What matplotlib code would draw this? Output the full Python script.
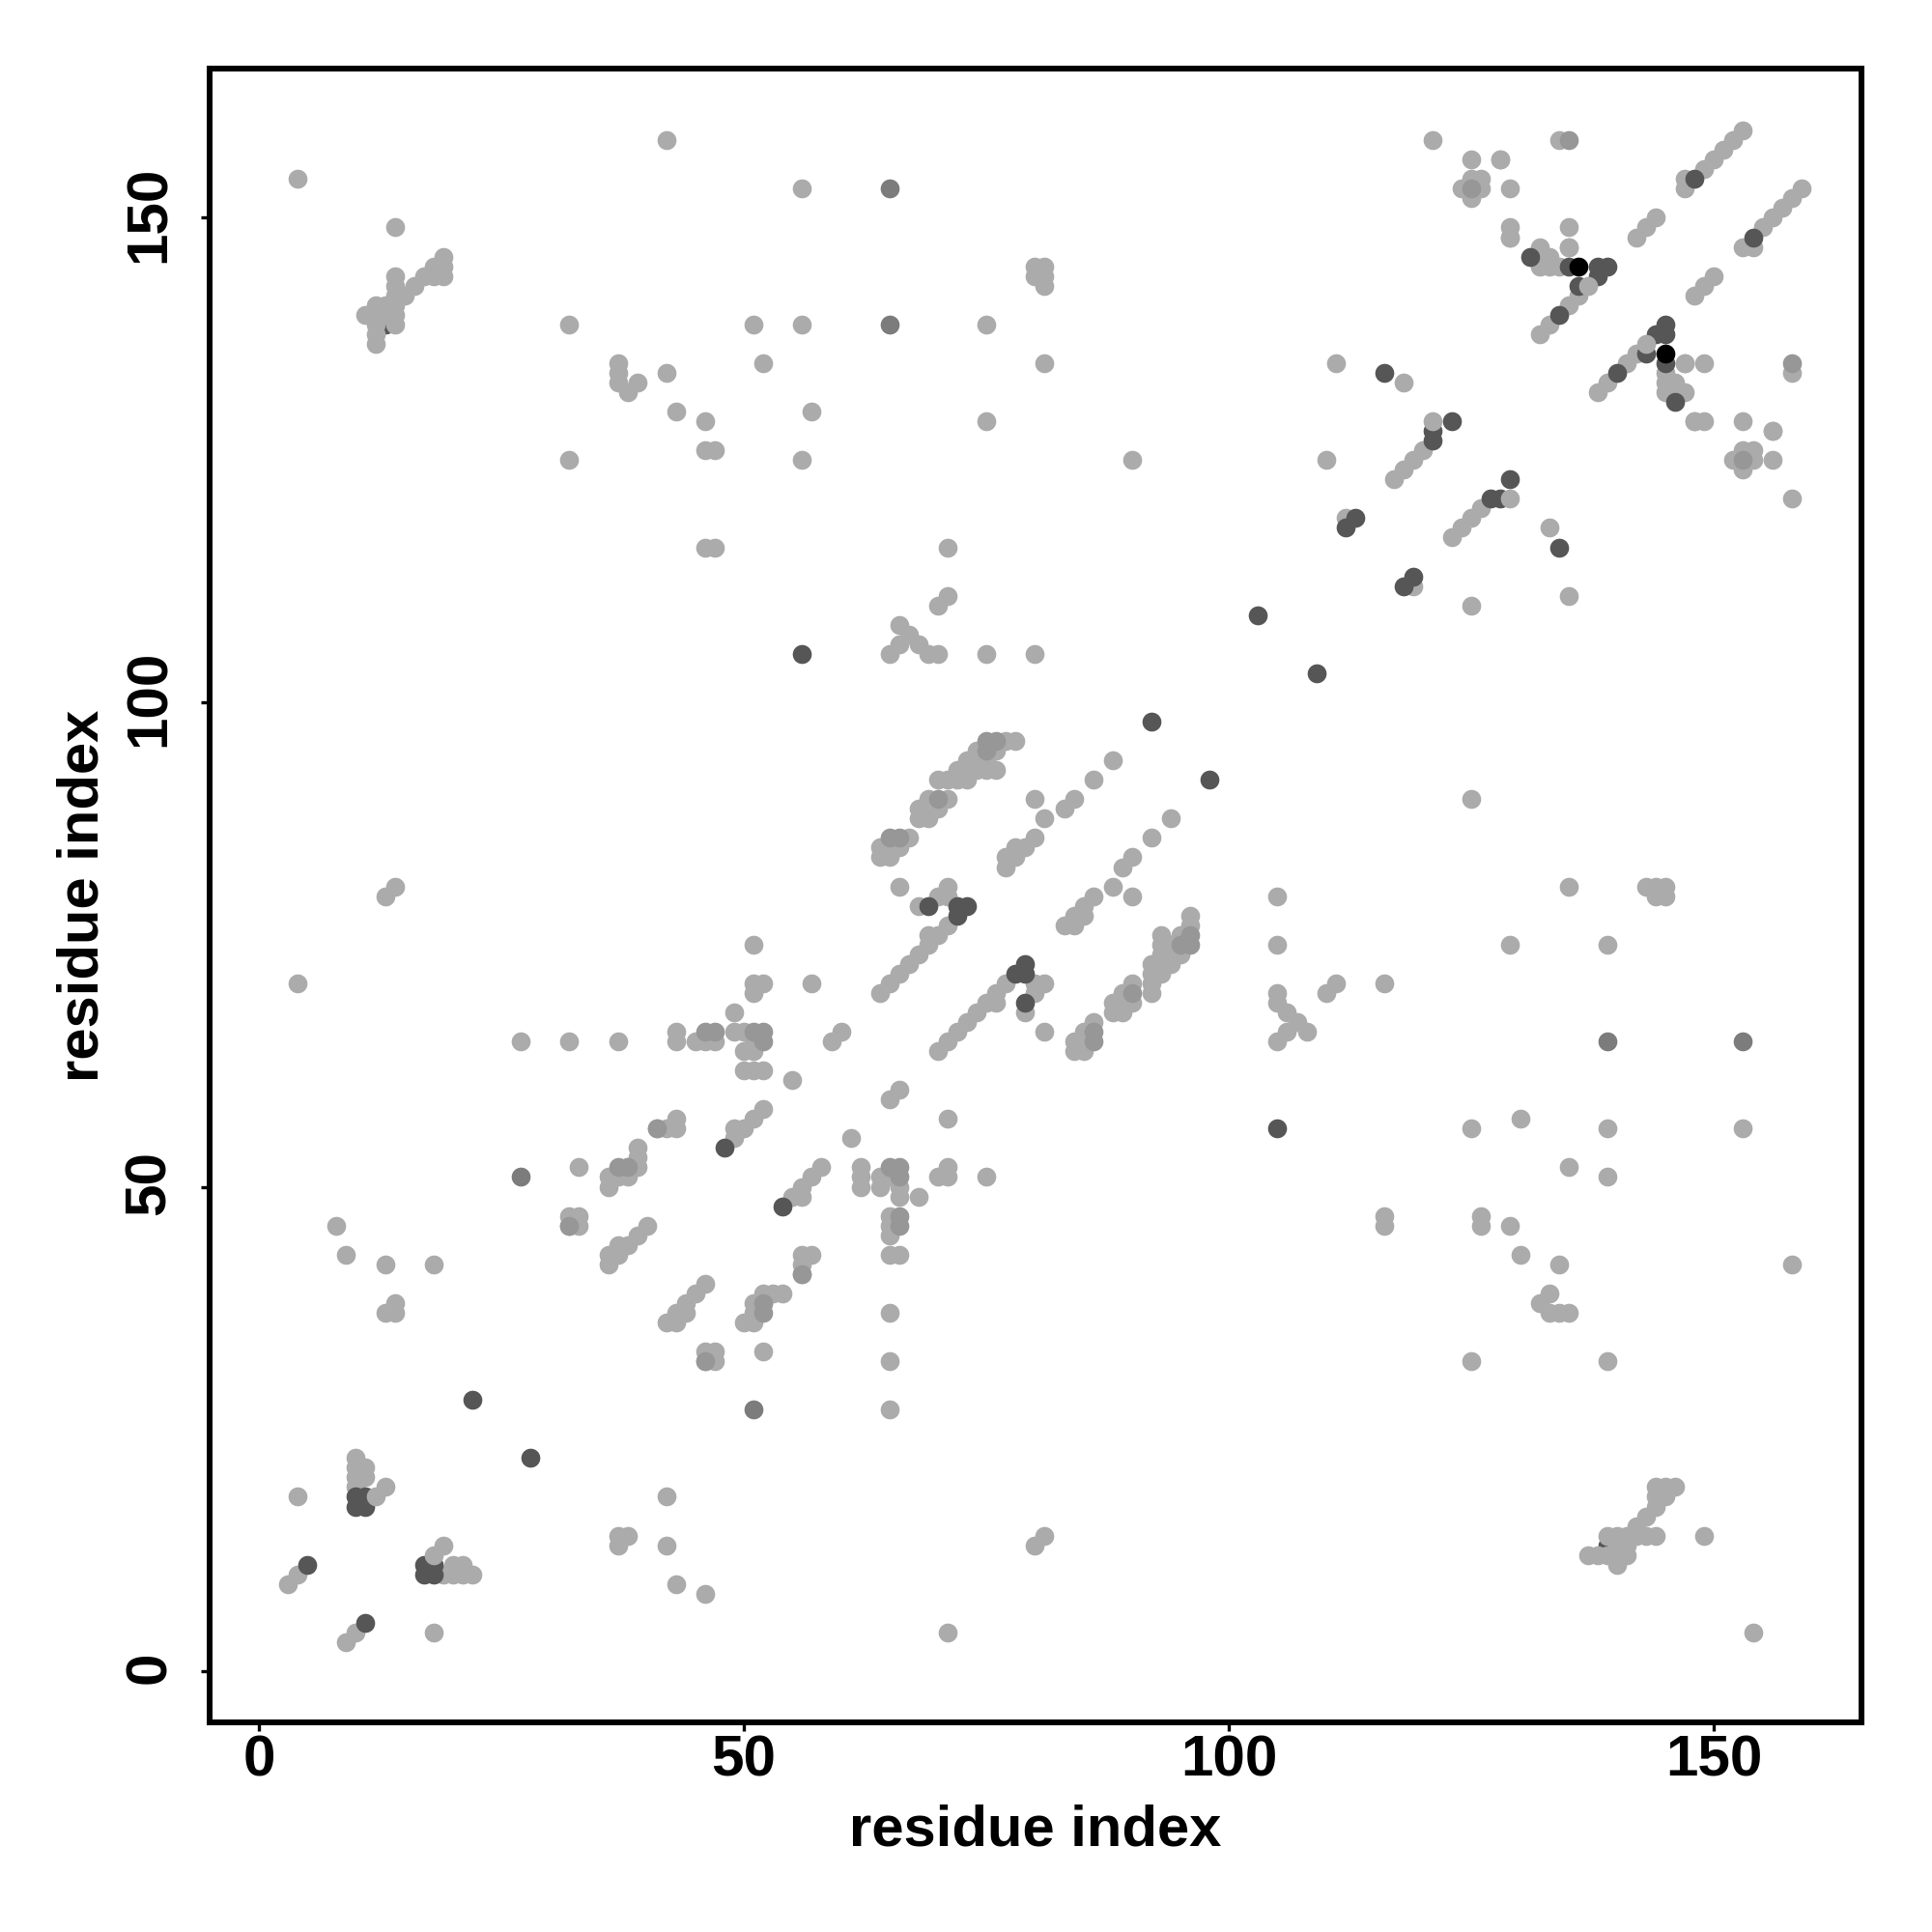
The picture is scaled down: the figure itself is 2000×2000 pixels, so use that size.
import matplotlib
matplotlib.use("Agg")
import matplotlib.pyplot as plt
from matplotlib.ticker import FixedLocator
from matplotlib.transforms import ScaledTranslation

plt.rcParams['font.family'] = ['Liberation Sans', 'DejaVu Sans']

# contacts as (i, j); the map shows each one at (i, j) and at (j, i)
under = [(13,139)]
light = [
    (3,9),(4,10),(4,18),(10,19),(10,20),(10,21),(10,22),(11,20),(11,21),(13,19),
    (4,71),(4,154),(8,46),(9,43),(13,42),(18,42),(13,37),(14,37),(14,38),(13,80),(14,81),(14,149),
    (19,146),(19,145),(19,144),(18,145),(18,144),(17,144),(16,143),(15,142),(14,144),(14,143),(14,142),
    (14,141),(14,140),(14,139),(13,141),(13,140),(12,141),(12,140),(12,139),(12,138),(12,137),(11,140),
    (32,139),(51,139),(56,139),(75,139),(37,135),(37,134),(37,133),(38,132),(39,133),(52,135),(81,135),(111,135),
    (42,134),(43,130),(46,129),(57,130),(75,129),(46,126),(47,126),(32,125),(56,125),(90,125),(110,125),
    (46,116),(47,116),(71,116),(71,111),(70,110),(65,105),(66,106),(66,108),(67,107),(68,106),(69,105),(70,105),(75,105),(80,105),
    (64,70),(65,71),(66,72),(67,73),(68,74),(69,75),(69,76),(70,76),(71,77),(66,81),(68,79),(70,80),(71,81),(71,80),
    (64,85),(65,85),(66,85),(64,84),(65,84),(67,86),
    (71,90),(69,90),(68,89),(69,89),(70,89),(68,88),(69,88),
    (70,92),(71,92),(72,92),(73,92),(72,93),(73,93),(74,93),(75,93),(76,93),(73,94),(74,94),(75,94),(74,95),(76,95),(77,96),(78,96),
    (77,83),(77,84),(78,84),(78,85),(79,85),(80,86),(81,88),(80,90),(83,89),(84,90),(86,92),(88,94),
    (27,65),(32,65),(37,65),(43,65),(45,65),(46,65),(47,65),(49,66),(50,66),(51,65),(50,64),(51,64),(50,62),(51,62),(52,62),
    (43,66),(49,68),(51,70),(51,71),(52,71),(57,71),(55,61),(59,65),(60,66),
    (52,58),(51,57),(50,56),(49,56),(49,55),(41,56),(43,56),(43,57),
    (39,54),(39,53),(39,52),(38,52),(38,51),(36,51),(36,50),(33,52),
    (32,47),(33,47),(33,46),(40,46),(39,45),(38,44),(37,44),(37,43),(36,43),(36,42),
    (46,33),(47,33),(46,32),(47,32),
    (53,39),(54,39),(52,39),(51,38),(51,37),(50,36),(51,36),(56,43),(57,43),(56,42),
    (46,40),(45,39),(44,38),(43,37),(44,37),(42,36),(43,36),
    (51,75),
    (105,65),(105,69),(105,70),(105,75),(105,80),(106,66),(106,68),(107,67),(108,66),(110,70),(111,71),(116,71),
    (56,153),(42,158),(80,145),(81,145),(80,144),(81,144),(81,143),
    (117,123),(118,124),(119,125),(120,126),(118,133),(112,119),
    (135,111),(121,158),(134,158),(125,156),(128,156),(124,153),(125,154),(126,154),(126,153),(125,152),(129,153),
    (129,149),(129,148),(135,149),(135,147),(132,147),(132,145),(133,146),(133,145),(134,145),
    (136,142),(135,141),(133,139),(132,138),(142,148),(143,149),(144,150),(147,154),(147,153),
    (149,155),(150,156),(151,157),(152,158),(153,159),
    (145,134),(145,133),(145,132),
    (125,90),(125,56),(125,32),(126,47),(126,46),(129,75),(130,57),(130,43),
    (135,52),(135,81),(139,75),(139,56),(139,51),(139,32),
    (143,81),(144,81),(145,81),(144,80),(145,80),(153,56),(158,42),(149,14),
]
medium = [
    (65,86),(66,86),(70,90),(75,96),(76,96),(75,95),(46,66),(47,66),(51,66),(52,66),(52,65),(32,46),
    (52,38),(52,37),(56,41),(125,153),(135,158),
]
dim = [(27,51),(65,139),(65,153)]
dark = [
    (5,11),(10,17),(10,18),(11,17),(11,18),(22,28),(48,54),(56,105),(69,79),(72,79),(73,79),(72,78),
    (92,98),(103,109),(116,134),(121,127),(121,128),(123,129),(112,118),(113,119),(129,123),(134,116),
    (131,146),(135,145),(138,145),(139,145),(138,144),(136,143),(134,140),(148,154),
]
black = [(136,145)]
light_on_top = [(12,18),(121,129),(137,143),(147,135),(148,129),(156,128)]

x_ticks = [0, 50, 100, 150]
y_ticks = [0, 50, 100, 150]
axis_title = "residue index"


def both_ways(pairs):
    unique = sorted({(min(p), max(p)) for p in pairs})
    xs = [p[0] for p in unique] + [p[1] for p in unique]
    ys = [p[1] for p in unique] + [p[0] for p in unique]
    return xs, ys


fig = plt.figure(figsize=(10, 10), dpi=200)
ax = fig.add_axes([217 / 2000, 1 - 1783 / 2000, (1927 - 217) / 2000, (1783 - 71) / 2000])
groups = [
    (under, "#565656"), (light, "#ababab"), (medium, "#979797"), (dim, "#7c7c7c"),
    (dark, "#565656"), (black, "#000000"), (light_on_top, "#ababab"),
]
for group, colour in groups:
    xs, ys = both_ways(group)
    ax.scatter(xs, ys, s=50, c=colour, linewidths=0, zorder=3)

ax.set_xlim(-5.08, 165.2)
ax.set_ylim(-5.28, 165.4)
ax.xaxis.set_major_locator(FixedLocator(x_ticks))
ax.yaxis.set_major_locator(FixedLocator(y_ticks))
ax.set_xticklabels([str(t) for t in x_ticks], fontsize=21.7, fontweight="bold")
ax.set_yticklabels([str(t) for t in y_ticks], fontsize=21.7, fontweight="bold", rotation=90, va="center")
ax.tick_params(axis="x", length=3.2, width=1.2, pad=1.3)
ax.tick_params(axis="y", length=3.2, width=1.2, pad=9)
shift = ScaledTranslation(0, 1.4 / 72, fig.dpi_scale_trans)
for label in ax.get_yticklabels():
    label.set_transform(label.get_transform() + shift)
ax.set_xlabel(axis_title, fontsize=21.5, fontweight="bold", labelpad=6)
ax.set_ylabel(axis_title, fontsize=21.5, fontweight="bold", labelpad=5.3)
for spine in ax.spines.values():
    spine.set_linewidth(2.16)
fig.savefig("out.png", dpi=200)
